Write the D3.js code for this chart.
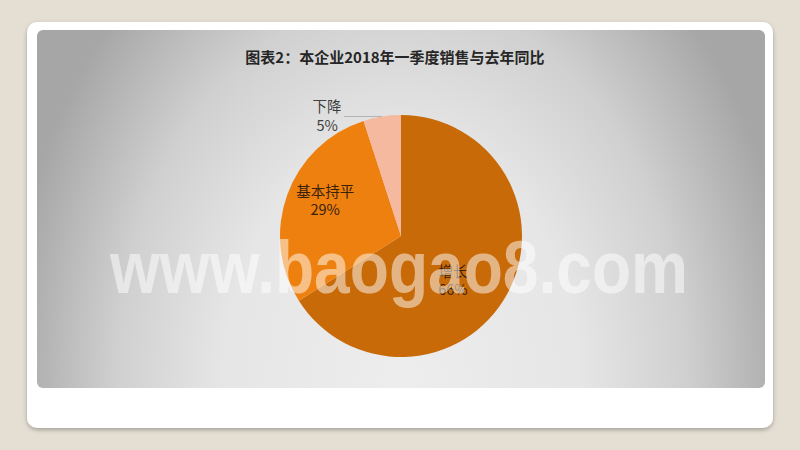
<!DOCTYPE html>
<html>
<head>
<meta charset="utf-8">
<script src="https://cdn.jsdelivr.net/npm/d3@7"></script>
<style>
  html, body { margin: 0; padding: 0; background: #e4ded3; }
  svg { display: block; }
</style>
</head>
<body>
<svg id="chart" width="800" height="450"></svg>
<script>
'use strict';

// chart data
var title = '图表2：本企业2018年一季度销售与去年同比';
var categories = ['增长', '基本持平', '下降'];
var shares = [66, 29, 5];
var sliceColors = ['#c96a08', '#ee800f', '#f5b9a0'];
var watermark = 'www.baogao8.com';

var svg = d3.select('#chart');
var defs = svg.append('defs');

// card shadow
var shadow = defs.append('filter').attr('id', 'shadow')
    .attr('x', '-5%').attr('y', '-5%').attr('width', '110%').attr('height', '115%');
shadow.append('feDropShadow')
    .attr('dx', 0).attr('dy', 2).attr('stdDeviation', 2)
    .attr('flood-color', '#7a7a70').attr('flood-opacity', 0.6);

// grey backdrop, light at the bottom centre, darker to the corners
var bg = defs.append('radialGradient').attr('id', 'plotBg')
    .attr('gradientUnits', 'userSpaceOnUse')
    .attr('cx', 0).attr('cy', 0).attr('r', 1)
    .attr('gradientTransform', 'translate(401,385) scale(395,540)');
bg.append('stop').attr('offset', 0).attr('stop-color', '#ededed');
bg.append('stop').attr('offset', 0.45).attr('stop-color', '#e6e6e6');
bg.append('stop').attr('offset', 0.72).attr('stop-color', '#d0d0d0');
bg.append('stop').attr('offset', 1).attr('stop-color', '#a6a6a6');

svg.append('rect')
    .attr('x', 27).attr('y', 22).attr('width', 746).attr('height', 406)
    .attr('rx', 10).attr('fill', '#ffffff')
    .attr('filter', 'url(#shadow)');

svg.append('rect')
    .attr('x', 37).attr('y', 30).attr('width', 728).attr('height', 358)
    .attr('rx', 6).attr('fill', 'url(#plotBg)');

svg.append('text')
    .attr('x', 395).attr('y', 63)
    .attr('text-anchor', 'middle')
    .attr('font-family', '"Noto Sans CJK SC", sans-serif')
    .attr('font-weight', 'bold')
    .attr('font-size', 15)
    .attr('fill', '#262626')
    .text(title);

// pie
var cx = 401, cy = 236, radius = 121;
var g = svg.append('g').attr('transform', 'translate(' + cx + ',' + cy + ')');

var pie = d3.pie().sort(null).value(function(d) { return d; });
var arcs = pie(shares);

var arc = d3.arc().innerRadius(0).outerRadius(radius);

var color = d3.scaleOrdinal().domain(categories).range(sliceColors);

g.selectAll('path')
    .data(arcs)
    .enter().append('path')
        .attr('d', arc)
        .attr('fill', function(d, i) { return color(categories[i]); });

// label placement: inside labels sit on a ring, small slices go outside with a leader
var labelRing = [
    { r: 68, turn: 0.2 },
    { r: 84, turn: 0.1 },
    { r: 0, turn: 0 }
];

function labelPoint(d, i) {
    var a = (d.startAngle + d.endAngle) / 2 + labelRing[i].turn;
    return [Math.sin(a) * labelRing[i].r, -Math.cos(a) * labelRing[i].r];
}

var labelFont = '"Noto Sans CJK SC", "Open Sans", sans-serif';

arcs.forEach(function(d, i) {
    var share = Math.round(d.value) + '%';
    if (d.endAngle - d.startAngle > 0.5) {
        var p = labelPoint(d, i);
        var t = g.append('text')
            .attr('text-anchor', 'middle')
            .attr('font-family', labelFont)
            .attr('font-size', 14.5)
            .attr('fill', '#3a220a');
        t.append('tspan').attr('x', p[0]).attr('y', p[1] - 3).text(categories[i]);
        t.append('tspan').attr('x', p[0]).attr('y', p[1] + 15).text(share);
    } else {
        // outer edge point of the slice, then a short horizontal leader to the left
        var a = (d.startAngle + d.endAngle) / 2;
        var ex = Math.sin(a) * radius, ey = -Math.cos(a) * radius;
        g.append('line')
            .attr('x1', ex).attr('y1', ey)
            .attr('x2', ex - 38).attr('y2', ey)
            .attr('stroke', '#a6a6a6').attr('stroke-width', 0.8);
        var t2 = g.append('text')
            .attr('text-anchor', 'middle')
            .attr('font-family', labelFont)
            .attr('font-size', 14.5)
            .attr('fill', '#404040');
        t2.append('tspan').attr('x', ex - 55).attr('y', ey - 5).text(categories[i]);
        t2.append('tspan').attr('x', ex - 55).attr('y', ey + 14).text(share);
    }
});

// site watermark laid over the picture
svg.append('text')
    .attr('x', 110).attr('y', 293)
    .attr('textLength', 578)
    .attr('lengthAdjust', 'spacingAndGlyphs')
    .attr('font-family', '"Liberation Sans", Arial, sans-serif')
    .attr('font-weight', 'bold')
    .attr('font-size', 74)
    .attr('fill', '#ffffff')
    .attr('fill-opacity', 0.5)
    .text(watermark);
</script>
</body>
</html>
